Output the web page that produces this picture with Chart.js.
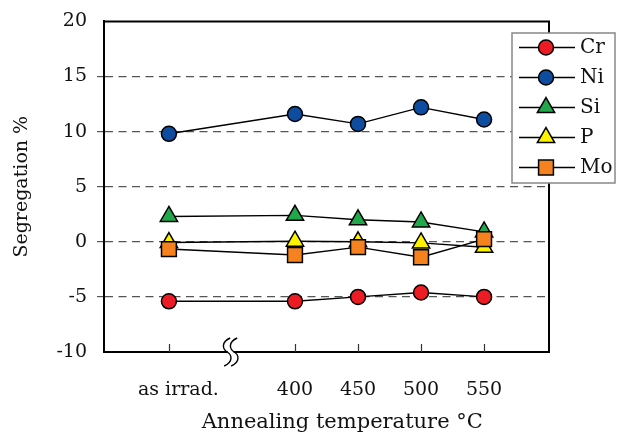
<!DOCTYPE html>
<html><head><meta charset="utf-8">
<script src="https://cdn.jsdelivr.net/npm/chart.js@4"></script>
<style>html,body{margin:0;padding:0;background:#fff}</style>
</head><body>
<canvas id="c" width="621" height="435" style="display:block;width:621px;height:435px"></canvas>
<script>
// ---- data ----
const categories = ['as irrad.', '400', '450', '500', '550'];
const xPositions = [300, 400, 450, 500, 550];
const seriesNames = ['Cr', 'Ni', 'Si', 'P', 'Mo'];
const crValues = [-5.4, -5.4, -5.0, -4.6, -5.0];
const niValues = [9.8, 11.6, 10.7, 12.2, 11.1];
const siValues = [2.3, 2.4, 2.0, 1.8, 0.9];
const pValues = [-0.07, 0.05, 0.0, -0.1, -0.5];
const moValues = [-0.66, -1.2, -0.48, -1.4, 0.24];
const yTickValues = [-10, -5, 0, 5, 10, 15, 20];

const FONT = "'DejaVu Serif', 'Liberation Serif', serif";
const styles = [
  {color: '#ed1c24', style: 'circle', r: 7.5},
  {color: '#0d4c9f', style: 'circle', r: 7.5},
  {color: '#21a84a', style: 'triangle', r: 10},
  {color: '#fff200', style: 'triangle', r: 10},
  {color: '#f5821f', style: 'rect', r: 10.5}
];
const allValues = [crValues, niValues, siValues, pValues, moValues];

const datasets = allValues.map((vals, i) => ({
  label: seriesNames[i],
  data: vals.map((v, k) => ({x: xPositions[k], y: v})),
  borderColor: '#000',
  borderWidth: 1.4,
  pointStyle: styles[i].style,
  pointRadius: styles[i].r,
  pointHoverRadius: styles[i].r,
  pointBackgroundColor: styles[i].color,
  pointBorderColor: '#000',
  pointBorderWidth: 1.5,
  fill: false,
  tension: 0,
  order: 5 - i
}));

const decor = {
  id: 'decor',
  afterDatasetsDraw(chart) {
    const {ctx, chartArea: a, scales: {x}} = chart;
    ctx.save();
    ctx.strokeStyle = '#000';
    ctx.lineWidth = 2;
    ctx.beginPath();
    ctx.moveTo(a.left, a.top); ctx.lineTo(a.right, a.top); ctx.lineTo(a.right, a.bottom);
    ctx.stroke();
    // inward tick marks
    ctx.lineWidth = 1.2;
    ctx.strokeStyle = '#333';
    ctx.beginPath();
    xPositions.forEach(v => {
      const px = Math.round(x.getPixelForValue(v)) + 0.5;
      ctx.moveTo(px, a.bottom); ctx.lineTo(px, a.bottom - 8);
    });
    ctx.stroke();
    // axis break
    const bx = x.getPixelForValue(349), by = a.bottom;
    ctx.fillStyle = '#fff';
    ctx.fillRect(bx - 3, by - 3, 6, 6);
    ctx.strokeStyle = '#000';
    ctx.lineWidth = 1.4;
    [-3.5, 3.5].forEach(dx => {
      const cx = bx + dx;
      ctx.beginPath();
      ctx.moveTo(cx + 3, by - 14);
      ctx.bezierCurveTo(cx - 6, by - 10, cx - 5, by - 3, cx, by);
      ctx.bezierCurveTo(cx + 5, by + 3, cx + 6, by + 10, cx - 3, by + 14);
      ctx.stroke();
    });
    ctx.restore();
  },
  afterDraw(chart) {
    const {ctx} = chart;
    ctx.save();
    const L = 512, T = 33, R = 615, B = 183;
    ctx.fillStyle = '#fff';
    ctx.fillRect(L, T, R - L, B - T);
    ctx.strokeStyle = '#888';
    ctx.lineWidth = 1.5;
    ctx.strokeRect(L, T, R - L, B - T);
    chart.data.datasets.forEach((ds, i) => {
      const yy = 47.5 + i * 30;
      ctx.strokeStyle = '#000';
      ctx.lineWidth = 1.4;
      ctx.beginPath(); ctx.moveTo(519, yy); ctx.lineTo(575, yy); ctx.stroke();
      ctx.fillStyle = ds.pointBackgroundColor;
      ctx.strokeStyle = '#000';
      ctx.lineWidth = 1.5;
      Chart.helpers.drawPoint(ctx, {pointStyle: ds.pointStyle, radius: ds.pointRadius, rotation: 0, borderWidth: 1.5}, 546, yy);
      ctx.fillStyle = '#111';
      ctx.font = "20px " + FONT;
      ctx.textBaseline = 'middle';
      ctx.textAlign = 'left';
      ctx.fillText(ds.label, 580, yy);
    });
    ctx.restore();
  }
};

new Chart(document.getElementById('c'), {
  type: 'line',
  data: {datasets},
  plugins: [decor],
  options: {
    responsive: false,
    animation: false,
    devicePixelRatio: 1,
    layout: {padding: {left: 0, right: 72, top: 21, bottom: 0}},
    plugins: {legend: {display: false}, tooltip: {enabled: false}},
    scales: {
      x: {
        type: 'linear',
        min: 248.5, max: 601.5,
        afterBuildTicks: s => { s.ticks = xPositions.map(v => ({value: v})); },
        afterFit: s => { s.height = 83; },
        ticks: {
          autoSkip: false, maxRotation: 0, minRotation: 0,
          padding: 27,
          color: '#111',
          font: {family: FONT, size: 19},
          callback: v => { const k = xPositions.indexOf(v); return k === 0 ? '\u2002\u2002' + categories[0] : categories[k]; }
        },
        grid: {display: false, drawTicks: false},
        border: {display: true, color: '#000', width: 2},
        title: {display: true, text: '\u2002\u2002\u2002Annealing temperature \u00B0C', color: '#111',
                font: {family: FONT, size: 21}, padding: {top: 0, bottom: 0}}
      },
      y: {
        type: 'linear',
        min: -10, max: 20,
        afterBuildTicks: s => { s.ticks = yTickValues.map(v => ({value: v})); },
        afterFit: s => { s.width = 104; },
        ticks: {padding: 10, color: '#111', font: {family: FONT, size: 19}},
        grid: {
          color: c => (c.tick && (c.tick.value === 20 || c.tick.value === -10)) ? 'rgba(0,0,0,0)' : '#555',
          lineWidth: 1.2,
          tickLength: 7,
          tickBorderDash: [8, 5.5]
        },
        border: {display: true, color: '#000', width: 2, dash: [8, 5.5]},
        title: {display: true, text: 'Segregation %', color: '#111',
                font: {family: FONT, size: 19}, padding: {top: 11, bottom: 0}}
      }
    }
  }
});
</script>
</body></html>
